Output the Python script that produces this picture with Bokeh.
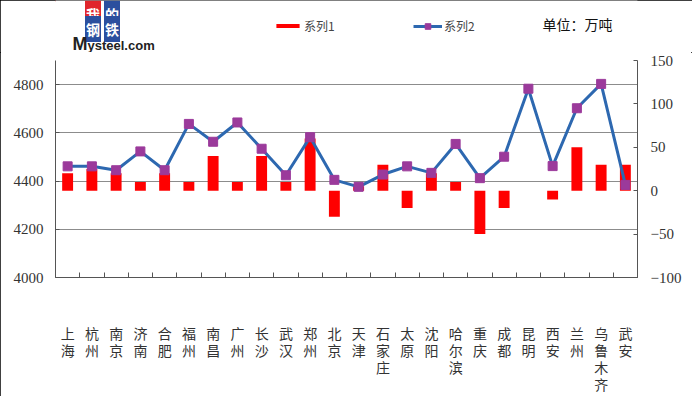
from bokeh.plotting import figure
from bokeh.layouts import column
from bokeh.models import Range1d, LinearAxis, FixedTicker, Legend, LegendItem, Label
from bokeh.embed import file_html
from bokeh.resources import INLINE

cities = ["上海", "杭州", "南京", "济南", "合肥", "福州", "南昌", "广州", "长沙", "武汉",
          "郑州", "北京", "天津", "石家庄", "太原", "沈阳", "哈尔滨", "重庆", "成都", "昆明",
          "西安", "兰州", "乌鲁木齐", "武安"]
series1 = [20, 25, 20, 10, 20, 10, 40, 10, 40, 10, 60, -30, 5, 30, -20, 20, 10, -50, -20, 0,
           -10, 50, 30, 30]
series2 = [4461, 4461, 4445, 4523, 4445, 4637, 4563, 4643, 4534, 4424, 4582, 4405, 4376, 4427,
           4461, 4434, 4554, 4412, 4501, 4783, 4462, 4702, 4803, 4384]
left_ticks = [4000, 4200, 4400, 4600, 4800]
right_ticks = [-100, -50, 0, 50, 100, 150]
right_labels = {-100: "−100", -50: "−50", 0: "0", 50: "50", 100: "100", 150: "150"}
series_names = ["系列1", "系列2"]
unit_text = "单位：万吨"

n = len(cities)
xc = [i + 0.5 for i in range(n)]

W, H = 692, 396
HH = 52                               # header height
FL, FR, FT, FB = 55, 637, 60, 279     # frame edges (page pixels)

RED = "#FF0000"
BLUE = "#2D68B0"
PURPLE = "#9B3A9B"

# ---------------- header (legend, unit, logo) ----------------
# the column aligns the header frame with the chart frame (FL..FR), so the
# header x range is expressed in page pixels over that span
h = figure(width=W, height=HH, output_backend="svg", toolbar_location=None,
           x_range=Range1d(FL, FR), y_range=Range1d(HH, 0),
           x_axis_location=None, y_axis_location=None, min_border=0)
h.grid.visible = False
h.outline_line_color = None
h.background_fill_color = "white"
h.border_fill_color = "white"

# legend-only renderers, kept outside the visible range
hb = h.vbar(x=[-1000], top=[1], bottom=[0], width=1, fill_color=RED, line_color=None)
hl = h.line(x=[-1000, -999], y=[1, 1], line_color=BLUE, line_width=3)
hm = h.scatter(x=[-1000], y=[1], marker="square", size=9, fill_color=PURPLE,
               line_color=PURPLE)

common = dict(orientation="horizontal", padding=0, margin=0, border_line_color=None,
              background_fill_alpha=0, label_text_font="Noto Sans CJK SC",
              label_text_font_size="12px", label_text_color="#444444",
              glyph_width=29, label_standoff=2, label_height=14)
leg1 = Legend(items=[LegendItem(label=series_names[0], renderers=[hb])],
              location=(273 - FL, 18), glyph_height=5, **common)
leg2 = Legend(items=[LegendItem(label=series_names[1], renderers=[hl, hm])],
              location=(413 - FL, 18), glyph_height=14, **common)
h.add_layout(leg1, "center")
h.add_layout(leg2, "center")

h.add_layout(Label(x=542, y=23.5, text=unit_text, text_font="Noto Sans CJK SC",
                   text_font_size="14px", text_color="#111111",
                   text_baseline="middle", text_align="left"))

logo = [("我", "#E0262C", 92.5, 13), ("的", "#2B4F9E", 111.5, 13),
        ("钢", "#2B4F9E", 92.5, 28.5), ("铁", "#2B4F9E", 111.5, 28.5)]
for ch, bg, lx, ly in logo:
    h.add_layout(Label(x=lx, y=ly, text=ch, text_font="Noto Sans CJK SC",
                       text_font_size="14px", text_font_style="bold", text_color="white",
                       text_line_height=0.75, background_fill_color=bg,
                       text_baseline="middle", text_align="center", padding=(1, 3)))
h.add_layout(Label(x=72, y=43, text="M", text_font="Liberation Sans", text_font_size="18px",
                   text_font_style="bold", text_color="#222222", text_baseline="middle"))
h.add_layout(Label(x=87, y=45, text="ysteel.com", text_font="Liberation Sans",
                   text_font_size="13px", text_font_style="bold", text_color="#222222",
                   text_baseline="middle"))

# ---------------- main chart ----------------
p = figure(width=W, height=H - HH, output_backend="svg", toolbar_location=None,
           x_range=Range1d(0, n), y_range=Range1d(4000, 4900),
           min_border_left=FL, min_border_right=W - FR, min_border_top=FT - HH,
           min_border_bottom=H - FB)
p.outline_line_color = None
p.background_fill_color = "white"
p.border_fill_color = "white"

p.extra_y_ranges = {"bars": Range1d(-100, 150)}

axis_color = "#555555"
label_color = "#333333"

la = p.yaxis[0]
la.ticker = FixedTicker(ticks=left_ticks)
la.axis_line_color = axis_color
la.major_tick_line_color = axis_color
la.major_tick_in = 4
la.major_tick_out = 0
la.minor_tick_line_color = None
la.major_label_text_font = "Liberation Serif"
la.major_label_text_font_size = "15px"
la.major_label_text_color = label_color
la.major_label_standoff = 12

ra = LinearAxis(y_range_name="bars", ticker=FixedTicker(ticks=right_ticks))
ra.major_label_overrides = right_labels
ra.axis_line_color = axis_color
ra.major_tick_line_color = axis_color
ra.major_tick_in = 4
ra.major_tick_out = 0
ra.minor_tick_line_color = None
ra.major_label_text_font = "Liberation Serif"
ra.major_label_text_font_size = "15px"
ra.major_label_text_color = label_color
ra.major_label_standoff = 13
p.add_layout(ra, "right")

xa = p.xaxis[0]
xa.ticker = FixedTicker(ticks=xc, minor_ticks=list(range(0, n + 1)))
xa.major_label_overrides = {x: "\n".join(c) for x, c in zip(xc, cities)}
xa.axis_line_color = axis_color
xa.major_tick_line_color = None
xa.major_tick_out = 0
xa.major_tick_in = 0
xa.minor_tick_line_color = axis_color
xa.minor_tick_in = 5
xa.minor_tick_out = 0
xa.major_label_text_font = "Noto Sans CJK SC"
xa.major_label_text_font_size = "14px"
xa.major_label_text_line_height = 0.85
xa.major_label_text_color = label_color
xa.major_label_standoff = 45

p.xgrid.visible = False
p.ygrid.ticker = FixedTicker(ticks=left_ticks)
p.ygrid.grid_line_color = "#8c8c8c"
p.ygrid.grid_line_width = 1

p.vbar(x=xc, top=series1, bottom=0, width=0.45, fill_color=RED, line_color=None,
       y_range_name="bars")
p.line(xc, series2, line_color=BLUE, line_width=3)
p.scatter(xc, series2, marker="square", size=9, fill_color=PURPLE, line_color=PURPLE)

layout = column(h, p, spacing=0,
                styles={"outline": "1px solid #000", "outline-offset": "-1px"})

open("out.html", "w").write(file_html(layout, INLINE))
